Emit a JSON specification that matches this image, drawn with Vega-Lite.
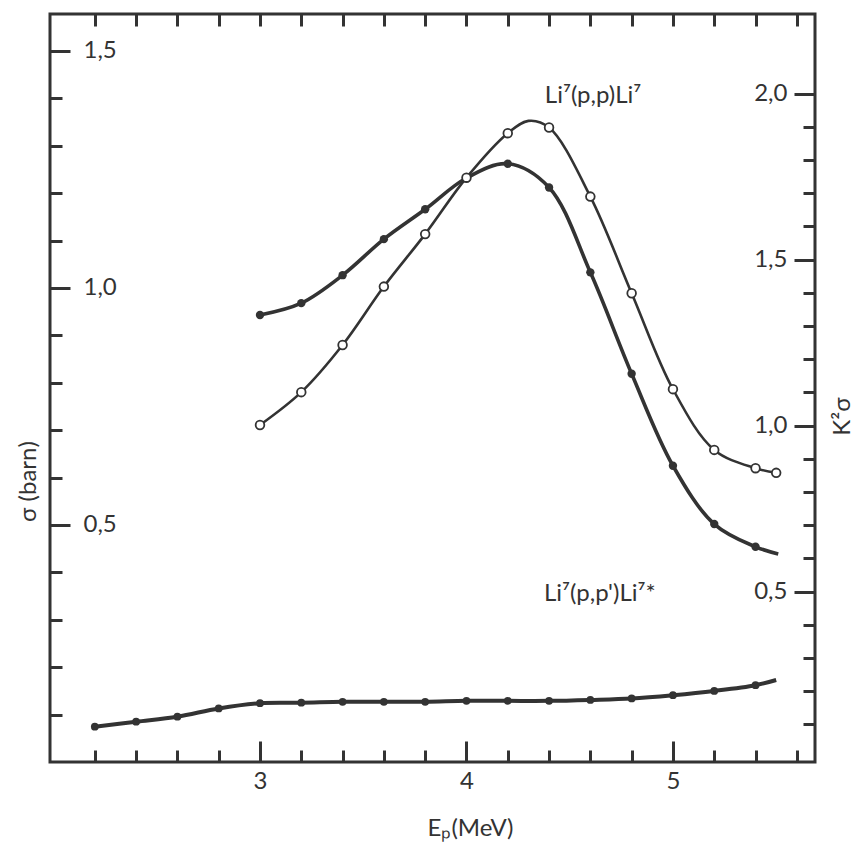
{
  "$schema": "https://vega.github.io/schema/vega-lite/v6.json",
  "width": 765,
  "height": 748,
  "autosize": {"type": "none"},
  "padding": {"left": 50, "top": 14, "right": 39, "bottom": 80},
  "background": "white",
  "config": {
    "view": {"stroke": "#333", "strokeWidth": 3},
    "axis": {
      "domain": false, "grid": false,
      "labelFont": "Lato", "labelFontSize": 24, "labelColor": "#333",
      "tickColor": "#333", "tickWidth": 3,
      "titleFont": "Lato", "titleFontSize": 24, "titleFontWeight": "normal", "titleColor": "#333",
      "labelFlush": false, "labelOverlap": false
    }
  },
  "datasets": {
    "sigma": [
      {"E": 3.0, "s": 0.943, "m": 1},
      {"E": 3.2, "s": 0.968, "m": 1},
      {"E": 3.4, "s": 1.027, "m": 1},
      {"E": 3.6, "s": 1.103, "m": 1},
      {"E": 3.8, "s": 1.166, "m": 1},
      {"E": 4.0, "s": 1.232, "m": 1},
      {"E": 4.2, "s": 1.262, "m": 1},
      {"E": 4.4, "s": 1.212, "m": 1},
      {"E": 4.6, "s": 1.033, "m": 1},
      {"E": 4.8, "s": 0.819, "m": 1},
      {"E": 5.0, "s": 0.625, "m": 1},
      {"E": 5.2, "s": 0.502, "m": 1},
      {"E": 5.4, "s": 0.454, "m": 1},
      {"E": 5.51, "s": 0.439, "m": 0}
    ],
    "inelastic": [
      {"E": 2.2, "s": 0.0745, "m": 1},
      {"E": 2.4, "s": 0.085, "m": 1},
      {"E": 2.6, "s": 0.0956, "m": 1},
      {"E": 2.8, "s": 0.113, "m": 1},
      {"E": 3.0, "s": 0.124, "m": 1},
      {"E": 3.2, "s": 0.125, "m": 1},
      {"E": 3.4, "s": 0.127, "m": 1},
      {"E": 3.6, "s": 0.127, "m": 1},
      {"E": 3.8, "s": 0.127, "m": 1},
      {"E": 4.0, "s": 0.129, "m": 1},
      {"E": 4.2, "s": 0.129, "m": 1},
      {"E": 4.4, "s": 0.129, "m": 1},
      {"E": 4.6, "s": 0.131, "m": 1},
      {"E": 4.8, "s": 0.134, "m": 1},
      {"E": 5.0, "s": 0.141, "m": 1},
      {"E": 5.2, "s": 0.150, "m": 1},
      {"E": 5.4, "s": 0.162, "m": 1},
      {"E": 5.5, "s": 0.173, "m": 0}
    ],
    "k2sigma": [
      {"E": 3.0, "k": 1.002, "m": 1},
      {"E": 3.2, "k": 1.101, "m": 1},
      {"E": 3.4, "k": 1.243, "m": 1},
      {"E": 3.6, "k": 1.419, "m": 1},
      {"E": 3.8, "k": 1.577, "m": 1},
      {"E": 4.0, "k": 1.747, "m": 1},
      {"E": 4.2, "k": 1.881, "m": 1},
      {"E": 4.3, "k": 1.918, "m": 0},
      {"E": 4.4, "k": 1.898, "m": 1},
      {"E": 4.6, "k": 1.690, "m": 1},
      {"E": 4.8, "k": 1.399, "m": 1},
      {"E": 5.0, "k": 1.110, "m": 1},
      {"E": 5.2, "k": 0.927, "m": 1},
      {"E": 5.4, "k": 0.872, "m": 1},
      {"E": 5.5, "k": 0.858, "m": 1}
    ],
    "labels": [
      {"E": 4.613, "s": 1.405, "label": "Li⁷(p,p)Li⁷"},
      {"E": 4.646, "s": 0.355, "label": "Li⁷(p,p')Li⁷*"}
    ]
  },
  "layer": [
    {
      "encoding": {
        "x": {
          "field": "E", "type": "quantitative",
          "scale": {"domain": [1.983, 5.688], "nice": false, "zero": false},
          "axis": {
            "orient": "bottom",
            "values": [2.2, 2.4, 2.6, 2.8, 3, 3.2, 3.4, 3.6, 3.8, 4, 4.2, 4.4, 4.6, 4.8, 5, 5.2, 5.4, 5.6],
            "tickSize": {"condition": {"test": "datum.value == 3 || datum.value == 4 || datum.value == 5", "value": -21}, "value": -12},
            "labelExpr": "(datum.value == 3 || datum.value == 4 || datum.value == 5) ? format(datum.value, 'd') : ''",
            "labelBaseline": "top",
            "labelPadding": 28,
            "title": "Eₚ(MeV)",
            "titleX": 420,
            "titleY": 66,
            "titleAlign": "center",
            "titleBaseline": "middle"
          }
        },
        "y": {
          "field": "s", "type": "quantitative",
          "scale": {"domain": [0, 1.578], "nice": false, "zero": false},
          "axis": {
            "orient": "left",
            "values": [0.1, 0.2, 0.3, 0.4, 0.5, 0.6, 0.7, 0.8, 0.9, 1.0, 1.1, 1.2, 1.3, 1.4, 1.5],
            "tickSize": {"condition": {"test": "abs(datum.value * 2 - round(datum.value * 2)) < 0.001", "value": -20}, "value": -12},
            "labelExpr": "abs(datum.value * 2 - round(datum.value * 2)) < 0.001 ? replace(format(datum.value, '.1f'), '.', ',') : ''",
            "labelAlign": "left",
            "labelBaseline": "middle",
            "labelPadding": -13,
            "title": "σ (barn)",
            "titleX": -22,
            "titleY": 467,
            "titleAngle": -90,
            "titleAlign": "center",
            "titleBaseline": "middle"
          }
        }
      },
      "layer": [
        {
          "data": {"name": "sigma"},
          "mark": {"type": "line", "interpolate": "catmull-rom", "color": "#333", "strokeWidth": 3.6}
        },
        {
          "data": {"name": "inelastic"},
          "mark": {"type": "line", "interpolate": "catmull-rom", "color": "#333", "strokeWidth": 4}
        },
        {
          "data": {"name": "sigma"},
          "transform": [{"filter": "datum.m == 1"}],
          "mark": {"type": "point", "shape": "circle", "filled": true, "color": "#333", "size": 70, "opacity": 1}
        },
        {
          "data": {"name": "inelastic"},
          "transform": [{"filter": "datum.m == 1"}],
          "mark": {"type": "point", "shape": "circle", "filled": true, "color": "#333", "size": 60, "opacity": 1}
        },
        {
          "data": {"name": "labels"},
          "mark": {"type": "text", "font": "Lato", "fontSize": 24, "color": "#333", "align": "center", "baseline": "middle"},
          "encoding": {"text": {"field": "label", "type": "nominal"}}
        }
      ]
    },
    {
      "data": {"name": "k2sigma"},
      "encoding": {
        "x": {
          "field": "E", "type": "quantitative",
          "scale": {"domain": [1.983, 5.688], "nice": false, "zero": false},
          "axis": {
            "orient": "top",
            "values": [2.2, 2.4, 2.6, 2.8, 3, 3.2, 3.4, 3.6, 3.8, 4, 4.2, 4.4, 4.6, 4.8, 5, 5.2, 5.4, 5.6],
            "tickSize": -12,
            "labels": false,
            "title": null
          }
        },
        "y": {
          "field": "k", "type": "quantitative",
          "scale": {"domain": [-0.013, 2.24], "nice": false, "zero": false},
          "axis": {
            "orient": "right",
            "values": [0.1, 0.2, 0.3, 0.4, 0.5, 0.6, 0.7, 0.8, 0.9, 1.0, 1.1, 1.2, 1.3, 1.4, 1.5, 1.6, 1.7, 1.8, 1.9, 2.0],
            "tickSize": {"condition": {"test": "abs(datum.value * 2 - round(datum.value * 2)) < 0.001", "value": -21}, "value": -12},
            "labelExpr": "abs(datum.value * 2 - round(datum.value * 2)) < 0.001 ? replace(format(datum.value, '.1f'), '.', ',') : ''",
            "labelAlign": "right",
            "labelBaseline": "middle",
            "labelPadding": -7,
            "title": "K²σ",
            "titleX": 27,
            "titleY": 402,
            "titleAngle": -90,
            "titleAlign": "center",
            "titleBaseline": "middle"
          }
        }
      },
      "layer": [
        {
          "mark": {"type": "line", "interpolate": "catmull-rom", "color": "#333", "strokeWidth": 2.6}
        },
        {
          "transform": [{"filter": "datum.m == 1"}],
          "mark": {"type": "point", "shape": "circle", "fill": "white", "stroke": "#333", "strokeWidth": 1.8, "size": 75, "opacity": 1}
        }
      ]
    }
  ],
  "resolve": {"scale": {"y": "independent"}, "axis": {"x": "independent", "y": "independent"}}
}
